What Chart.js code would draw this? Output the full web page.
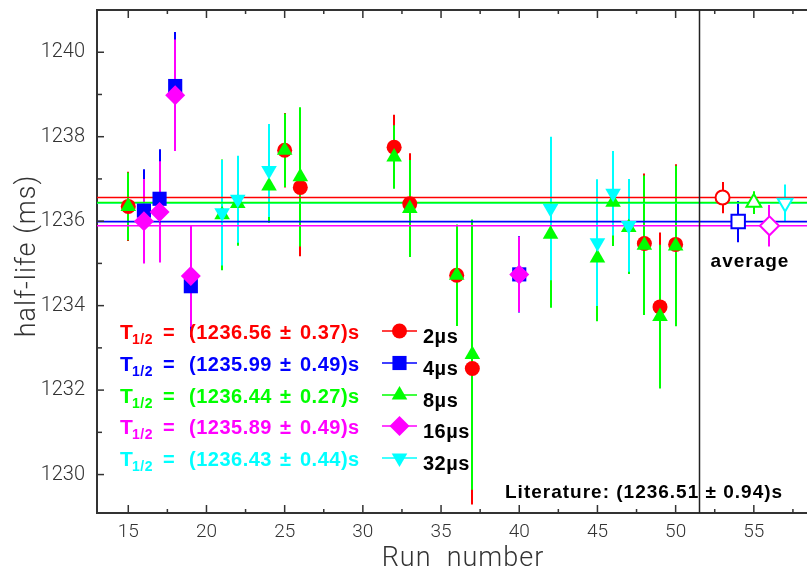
<!DOCTYPE html>
<html>
<head>
<meta charset="utf-8">
<script src="https://cdn.jsdelivr.net/npm/chart.js@4"></script>
<style>
  html, body { margin: 0; padding: 0; background: #fff; }
  canvas { display: block; }
</style>
</head>
<body>
<canvas id="halfLifeChart" width="807" height="573"></canvas>
<script>
// axis ranges
var runMin = 13, runMax = 58.4;
var tMin = 1229.09, tMax = 1241.0;
var separatorRun = 51.5;

// 2 us gate
var runs2us = [15, 25, 26, 32, 33, 36, 37, 48, 49, 50];
var vals2us = [1236.35, 1237.68, 1236.80, 1237.75, 1236.41, 1234.72, 1232.51, 1235.47, 1233.97, 1235.45];
var errs2us = [0.82, 0.88, 1.63, 0.77, 1.2, 1.18, 3.22, 1.66, 1.76, 1.9];

// 4 us gate
var runs4us = [16, 17, 18, 19, 40];
var vals4us = [1236.25, 1236.53, 1239.2, 1234.46, 1234.74];
var errs4us = [0.98, 1.17, 1.28, 1.2, 0.9];

// 8 us gate
var runs8us = [15, 21, 22, 24, 25, 26, 32, 33, 36, 37, 42, 45, 46, 47, 48, 49, 50];
var vals8us = [1236.35, 1236.15, 1236.42, 1236.83, 1237.68, 1237.05, 1237.52, 1236.30, 1234.72, 1232.84, 1235.69, 1235.13, 1236.45, 1235.85, 1235.43, 1233.74, 1235.41];
var errs8us = [0.8, 1.31, 1.0, 0.87, 0.87, 1.65, 0.75, 1.15, 1.2, 3.2, 1.74, 1.5, 1.04, 1.1, 1.65, 1.7, 1.9];

// 16 us gate
var runs16us = [16, 17, 18, 19, 40];
var vals16us = [1236.0, 1236.22, 1238.98, 1234.70, 1234.74];
var errs16us = [1.0, 1.2, 1.32, 1.2, 0.89];

// 32 us gate
var runs32us = [21, 22, 24, 42, 45, 46, 47];
var vals32us = [1236.2, 1236.52, 1237.2, 1236.30, 1235.49, 1236.66, 1235.90];
var errs32us = [1.25, 1.03, 1.1, 1.7, 1.5, 1.0, 1.1];

// weighted averages, one per gate
var gateLabels = ['2µs', '4µs', '8µs', '16µs', '32µs'];
var avgRuns = [53, 54, 55, 56, 57];
var avgVals = [1236.56, 1235.99, 1236.44, 1235.89, 1236.43];
var avgErrs = [0.37, 0.49, 0.27, 0.49, 0.44];

var literatureVal = 1236.51, literatureErr = 0.94;

var gateColors = ['#ff0000', '#0000ff', '#00ff00', '#ff00ff', '#00ffff'];
var gateStyles = ['circle', 'rect', 'triangle', 'rectRot', 'triangle'];
var gateRotation = [0, 0, 0, 0, 180];
var gateRadius = [7.5, 10, 9, 10, 9];

var gateRuns = [runs2us, runs4us, runs8us, runs16us, runs32us];
var gateVals = [vals2us, vals4us, vals8us, vals16us, vals32us];
var gateErrs = [errs2us, errs4us, errs8us, errs16us, errs32us];

function toPoints(xs, ys) {
    return xs.map(function (x, i) {
        return {x: x, y: ys[i]};
    });
}

function drawMarker(ctx, style, x, y, r, rot) {
    ctx.beginPath();
    if (style === 'circle') {
        ctx.arc(x, y, r, 0, Math.PI * 2);
    } else if (style === 'rect') {
        var s = r * Math.SQRT1_2;
        ctx.rect(x - s, y - s, 2 * s, 2 * s);
    } else if (style === 'rectRot') {
        ctx.moveTo(x, y - r);
        ctx.lineTo(x + r, y);
        ctx.lineTo(x, y + r);
        ctx.lineTo(x - r, y);
        ctx.closePath();
    } else {
        var d = rot ? -1 : 1;
        ctx.moveTo(x, y - d * r);
        ctx.lineTo(x + r * 0.866, y + d * r * 0.5);
        ctx.lineTo(x - r * 0.866, y + d * r * 0.5);
        ctx.closePath();
    }
    ctx.fill();
}

var datasets = [];

// horizontal average lines across the whole frame
avgVals.forEach(function (v, i) {
    datasets.push({
        type: 'line',
        data: [{x: runMin, y: v}, {x: runMax, y: v}],
        borderColor: gateColors[i],
        borderWidth: 1.6,
        pointRadius: 0,
        order: 10
    });
});

gateRuns.forEach(function (runs, i) {
    datasets.push({
        label: gateLabels[i],
        data: toPoints(runs, gateVals[i]),
        backgroundColor: gateColors[i],
        borderColor: gateColors[i],
        borderWidth: 0,
        pointStyle: gateStyles[i],
        pointRotation: gateRotation[i],
        pointRadius: gateRadius[i],
        order: 5 - i
    });
});

// open markers for the averages
avgRuns.forEach(function (r, i) {
    datasets.push({
        data: [{x: r, y: avgVals[i]}],
        backgroundColor: '#ffffff',
        borderColor: gateColors[i],
        borderWidth: 2,
        pointStyle: gateStyles[i],
        pointRotation: gateRotation[i],
        pointRadius: gateRadius[i] - 0.5,
        order: 0
    });
});

var extras = {
    id: 'extras',
    beforeDatasetsDraw: function (chart) {
        var ctx = chart.ctx, xs = chart.scales.x, ys = chart.scales.y, a = chart.chartArea;
        ctx.save();
        ctx.beginPath();
        ctx.rect(a.left, a.top, a.right - a.left, a.bottom - a.top);
        ctx.clip();
        gateRuns.forEach(function (runs, g) {
            ctx.strokeStyle = gateColors[g];
            ctx.lineWidth = 2;
            runs.forEach(function (r, i) {
                var px = Math.round(xs.getPixelForValue(r));
                ctx.beginPath();
                ctx.moveTo(px, ys.getPixelForValue(gateVals[g][i] - gateErrs[g][i]));
                ctx.lineTo(px, ys.getPixelForValue(gateVals[g][i] + gateErrs[g][i]));
                ctx.stroke();
            });
        });
        avgRuns.forEach(function (r, i) {
            var px = Math.round(xs.getPixelForValue(r));
            ctx.strokeStyle = gateColors[i];
            ctx.lineWidth = 2;
            ctx.beginPath();
            ctx.moveTo(px, ys.getPixelForValue(avgVals[i] - avgErrs[i]));
            ctx.lineTo(px, ys.getPixelForValue(avgVals[i] + avgErrs[i]));
            ctx.stroke();
        });
        ctx.restore();
    },
    afterDraw: function (chart) {
        var ctx = chart.ctx, xs = chart.scales.x, ys = chart.scales.y, a = chart.chartArea;
        ctx.save();

        // frame top + inward ticks
        ctx.strokeStyle = '#333';
        ctx.lineWidth = 2;
        ctx.beginPath();
        ctx.moveTo(a.left, a.top);
        ctx.lineTo(a.right, a.top);
        ctx.stroke();
        ctx.lineWidth = 1.5;
        xs.ticks.forEach(function (t) {
            if (t.value < runMin || t.value > runMax) return;
            var px = xs.getPixelForValue(t.value);
            var len = t.value % 5 === 0 ? 8 : 4;
            ctx.beginPath();
            ctx.moveTo(px, a.bottom);
            ctx.lineTo(px, a.bottom - len);
            ctx.moveTo(px, a.top);
            ctx.lineTo(px, a.top + len);
            ctx.stroke();
        });
        ys.ticks.forEach(function (t) {
            if (t.value % 1 !== 0) return;
            var py = ys.getPixelForValue(t.value);
            var len = t.value % 2 === 0 ? 7 : 5;
            ctx.beginPath();
            ctx.moveTo(a.left, py);
            ctx.lineTo(a.left + len, py);
            ctx.stroke();
        });

        // separator between runs and averages
        var sx = Math.round(xs.getPixelForValue(separatorRun)) + 0.5;
        ctx.strokeStyle = '#222';
        ctx.lineWidth = 1.5;
        ctx.beginPath();
        ctx.moveTo(sx, a.top);
        ctx.lineTo(sx, a.bottom);
        ctx.stroke();

        // axis titles
        ctx.fillStyle = '#333';
        ctx.font = '300 27px Roboto';
        ctx.letterSpacing = '1px';
        ctx.textAlign = 'center';
        ctx.textBaseline = 'middle';
        ctx.fillText('Run  number', 463, 559);
        ctx.save();
        ctx.translate(28, 256);
        ctx.rotate(-Math.PI / 2);
        ctx.fillText('half-life (ms)', 0, 0);
        ctx.restore();

        // result lines
        ctx.textAlign = 'left';
        ctx.textBaseline = 'middle';
        ctx.letterSpacing = '0.5px';
        var rowY = [333, 365, 397, 428, 460];
        avgVals.forEach(function (v, i) {
            var y = rowY[i];
            ctx.fillStyle = gateColors[i];
            ctx.font = 'bold 21px "Liberation Sans"';
            ctx.fillText('T', 120, y);
            ctx.font = 'bold 14px "Liberation Sans"';
            ctx.fillText('1/2', 132, y + 7);
            ctx.font = 'bold 20px "Liberation Sans"';
            ctx.fillText('=', 163, y);
            ctx.fillText('(' + v.toFixed(2), 189, y);
            ctx.fillText('±', 280, y);
            ctx.fillText(avgErrs[i].toFixed(2) + ')s', 300, y);

            // key
            var ky = y - 2;
            ctx.strokeStyle = gateColors[i];
            ctx.lineWidth = 1.5;
            ctx.beginPath();
            ctx.moveTo(382, ky);
            ctx.lineTo(417, ky);
            ctx.stroke();
            drawMarker(ctx, gateStyles[i], 399.5, ky, gateRadius[i], gateRotation[i]);
            ctx.fillStyle = '#000';
            ctx.font = 'bold 20px "Liberation Sans"';
            ctx.fillText(gateLabels[i], 423, y + 4);
        });

        ctx.fillStyle = '#000';
        ctx.font = 'bold 19px "Liberation Sans"';
        ctx.letterSpacing = '1px';
        ctx.fillText('Literature: (' + literatureVal.toFixed(2) + ' ± ' + literatureErr.toFixed(2) + ')s', 505, 493);
        ctx.textAlign = 'center';
        ctx.fillText('average', 750, 262);

        ctx.restore();
    }
};

var chart = new Chart(document.getElementById('halfLifeChart').getContext('2d'), {
    type: 'scatter',
    data: {datasets: datasets},
    plugins: [extras],
    options: {
        responsive: false,
        animation: false,
        events: [],
        layout: {autoPadding: false, padding: {top: 10, right: 0, left: 0, bottom: 0}},
        plugins: {
            legend: {display: false},
            tooltip: {enabled: false}
        },
        scales: {
            x: {
                type: 'linear',
                min: runMin,
                max: runMax,
                afterFit: function (s) {
                    s.height = 60;
                    s.paddingLeft = 0;
                    s.paddingRight = 0;
                },
                grid: {drawOnChartArea: false, drawTicks: false},
                border: {color: '#333', width: 2},
                ticks: {
                    stepSize: 2.5,
                    includeBounds: false,
                    autoSkip: false,
                    maxRotation: 0,
                    padding: 8,
                    color: '#333',
                    font: {family: 'Roboto', size: 19, weight: '300'},
                    callback: function (v) { return v % 5 === 0 ? String(v) : ''; }
                }
            },
            y: {
                type: 'linear',
                min: tMin,
                max: tMax,
                afterFit: function (s) {
                    s.width = 97;
                    s.paddingTop = 0;
                    s.paddingBottom = 0;
                },
                grid: {drawOnChartArea: false, drawTicks: false},
                border: {color: '#333', width: 2},
                ticks: {
                    stepSize: 1,
                    includeBounds: false,
                    autoSkip: false,
                    padding: 12,
                    color: '#333',
                    font: {family: 'Roboto', size: 20, weight: '300'},
                    callback: function (v) { return v % 2 === 0 ? String(v) : ''; }
                }
            }
        }
    }
});
</script>
</body>
</html>
